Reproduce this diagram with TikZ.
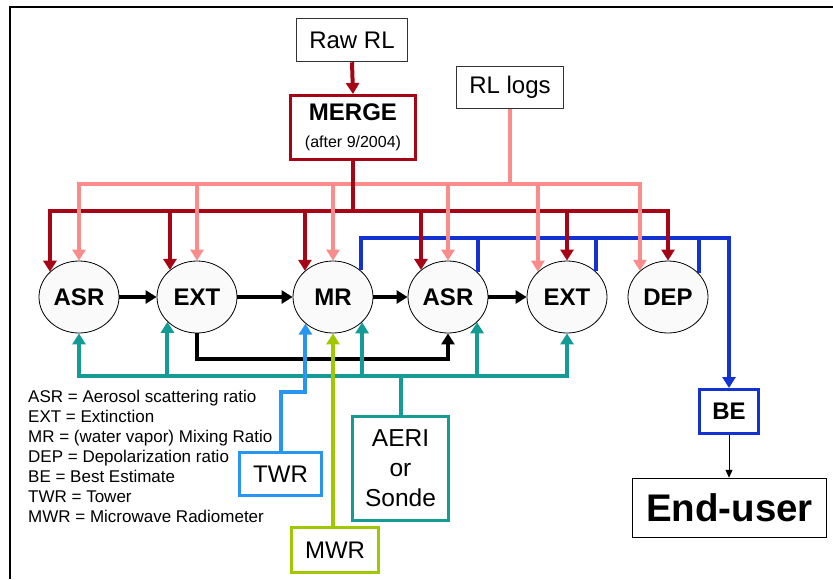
\documentclass[tikz,border=0pt]{standalone}
\usepackage{fontspec}
\setmainfont{Liberation Sans}
\usetikzlibrary{arrows.meta,shapes.geometric}
\definecolor{dred}{RGB}{165,5,20}
\definecolor{pinkc}{RGB}{250,140,140}
\definecolor{bluec}{RGB}{20,50,210}
\definecolor{tealc}{RGB}{20,155,150}
\definecolor{twrc}{RGB}{40,150,240}
\definecolor{mwrc}{RGB}{160,200,0}
\begin{document}
\begin{tikzpicture}[x=1pt,y=-1pt,
  circ/.style={ellipse, draw=black, line width=0.8pt, fill=black!2, minimum width=80pt, minimum height=72pt, inner sep=0pt, font=\fontsize{24}{28}\selectfont\bfseries},
  box/.style={draw, rectangle, fill=white, inner sep=0pt, align=center},
  bigtxt/.style={font=\fontsize{24}{28}\selectfont},
  fl/.style={line width=4pt},
  bar/.style={line width=4pt, line cap=rect},
  tip/.style={-{Triangle[width=13pt,length=11pt]}},
  legend/.style={anchor=base west, inner sep=0pt, font=\fontsize{17}{20}\selectfont}
]
\useasboundingbox (0,0) rectangle (833,579);
% frame
\draw[line width=2pt] (833,7) -- (10,7) -- (10,579);

% coordinates for bar levels
\coordinate (pb) at (0,184);
\coordinate (rb) at (0,211);
\coordinate (bb) at (0,238);
\coordinate (kb) at (0,359);
\coordinate (tb) at (0,376);
\coordinate (tw) at (0,392);

% boxes
\node[box, bigtxt, line width=1.5pt, draw=black!80, minimum width=111pt, minimum height=43pt] (raw) at (352,40) {Raw RL};
\node[box, line width=3pt, draw=dred, minimum width=125pt, minimum height=64pt, font=\fontsize{16}{27}\selectfont] (merge) at (353,127.5)
  {{\fontsize{24}{27}\selectfont\bfseries MERGE}\\(after 9/2004)};
\node[box, bigtxt, line width=1.5pt, draw=black!80, minimum width=107pt, minimum height=42pt] (logs) at (510,87.5) {RL logs};

% circles
\node[circ] (ASR1) at (79,297) {ASR};
\node[circ] (EXT1) at (197,297) {EXT};
\node[circ] (MR) at (333,297) {MR};
\node[circ] (ASR2) at (448,297) {ASR};
\node[circ] (EXT2) at (567,297) {EXT};
\node[circ] (DEP) at (668,297) {DEP};

\node[box, bigtxt, line width=3pt, draw=twrc, minimum width=82pt, minimum height=43pt] (twr) at (280.5,474) {TWR};
\node[box, bigtxt, line width=3pt, draw=mwrc, minimum width=87pt, minimum height=45pt] (mwr) at (335,550) {MWR};
\node[box, line width=3pt, draw=tealc, minimum width=96pt, minimum height=104pt, font=\fontsize{24.5}{30}\selectfont] (aeri) at (400.5,468.5) {AERI\\or\\Sonde};
\node[box, line width=3pt, draw=bluec, minimum width=59pt, minimum height=44pt, font=\fontsize{24}{28}\selectfont\bfseries] (be) at (729,411.5) {BE};
\node[box, line width=1.5pt, draw=black, minimum width=194pt, minimum height=59pt, font=\fontsize{38.5}{44}\selectfont\bfseries] (user) at (729.5,508) {End-user};

% blue: to best estimate
\draw[fl, bluec, tip] (MR.44.5) |- (bb -| be.north) -- (be.north);
\draw[fl, bluec] (ASR2.40.5) -- (ASR2.40.5 |- bb);
\draw[fl, bluec] (EXT2.42.5) -- (EXT2.42.5 |- bb);
\draw[fl, bluec] (DEP.38.4) -- (DEP.38.4 |- bb);

% dark red: merged data
\draw[bar, dred] (ASR1.139.5 |- rb) -- (DEP.90 |- rb);
\draw[fl, dred, tip] (ASR1.139.5 |- rb) -- (ASR1.139.5);
\draw[fl, dred, tip] (EXT1.135.5 |- rb) -- (EXT1.135.5);
\draw[fl, dred, tip] (MR.137.5 |- rb) -- (MR.137.5);
\draw[fl, dred, tip] (ASR2.135.5 |- rb) -- (ASR2.135.5);
\draw[fl, dred, tip] (EXT2.90 |- rb) -- (EXT2.90);
\draw[fl, dred, tip] (DEP.90 |- rb) -- (DEP.90);

% pink: RL logs
\draw[bar, pinkc] (ASR1.90 |- pb) -- (DEP.137.5 |- pb);
\draw[fl, pinkc] (logs.south) -- (logs.south |- pb);
\draw[fl, pinkc, tip] (ASR1.90 |- pb) -- (ASR1.90);
\draw[fl, pinkc, tip] (EXT1.90 |- pb) -- (EXT1.90);
\draw[fl, pinkc, tip] (MR.90 |- pb) -- (MR.90);
\draw[fl, pinkc, tip] (ASR2.90 |- pb) -- (ASR2.90);
\draw[fl, pinkc, tip] (EXT2.139.5 |- pb) -- (EXT2.139.5);
\draw[fl, pinkc, tip] (DEP.137.5 |- pb) -- (DEP.137.5);

% raw -> merge -> bar
\draw[fl, dred, tip] (raw.south) -- (merge.north);
\draw[fl, dred] (merge.south) -- (merge.south |- rb);

% black processing chain
\draw[fl, tip] (ASR1) -- (EXT1);
\draw[fl, tip] (EXT1) -- (MR);
\draw[fl, tip] (MR) -- (ASR2);
\draw[fl, tip] (ASR2) -- (EXT2);
\draw[fl, tip] (EXT1.270) -- (EXT1.270 |- kb) -| (ASR2.270);

% teal: AERI or sonde
\draw[bar, tealc] (ASR1.270 |- tb) -- (EXT2.270 |- tb);
\draw[fl, tealc] (aeri.north) -- (aeri.north |- tb);
\draw[fl, tealc, tip] (ASR1.270 |- tb) -- (ASR1.270);
\draw[fl, tealc, tip] (EXT1.220.5 |- tb) -- (EXT1.220.5);
\draw[fl, tealc, tip] (MR.319.5 |- tb) -- (MR.319.5);
\draw[fl, tealc, tip] (ASR2.319.5 |- tb) -- (ASR2.319.5);
\draw[fl, tealc, tip] (EXT2.270 |- tb) -- (EXT2.270);

% tower and MWR
\draw[fl, twrc, tip] (twr.north) -- (twr.north |- tw) -| (MR.224.5);
\draw[fl, mwrc, tip] (MR.270 |- mwr.north) -- (MR.270);

% BE -> end user
\draw[line width=1pt, -{Triangle[width=7pt,length=8pt]}] (be.south) -- (be.south |- user.north);

% legend
\foreach \t [count=\i from 0] in {ASR = Aerosol scattering ratio, EXT = Extinction, MR = (water vapor) Mixing Ratio, DEP = Depolarization ratio, BE = Best Estimate, TWR = Tower, MWR = Microwave Radiometer}
  \node[legend] (leg\i) at (28,402+20*\i) {\t};
\end{tikzpicture}
\end{document}
